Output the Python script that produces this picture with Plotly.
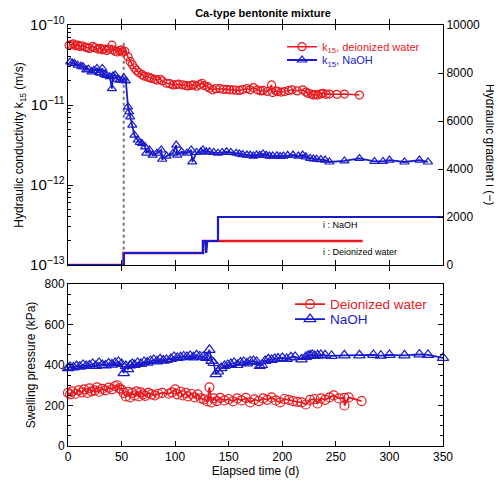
import plotly.graph_objects as go

RED = "#e8191f"
BLUE = "#1a1acc"
FONT = "Liberation Sans, Arial, sans-serif"

# ---------------- Hydraulic conductivity k15 (m/s) ----------------
k_dw_day = [1, 3, 5, 7, 9, 11, 13, 16, 18, 20, 23, 25, 28, 30, 32, 34, 36, 38, 41, 42,
            44, 46, 48, 50, 51, 53, 56, 58, 60, 62, 64, 66, 69, 71, 74, 76, 78, 81, 83, 86,
            88, 92, 95, 98, 101, 103, 107, 110, 112, 115, 117, 120, 123, 125, 127, 130, 132,
            135, 138, 142, 145, 148, 151, 154, 157, 160, 163, 167, 170, 173, 177, 180, 182,
            186, 190, 191, 194, 196, 199, 202, 206, 209, 214, 219, 222, 224, 227, 229, 231,
            233, 236, 238, 241, 244, 251, 258, 272]
k_dw = [5.6e-11, 5.7e-11, 5.8e-11, 5.5e-11, 5.6e-11, 5.4e-11, 5.5e-11, 5.3e-11, 5.2e-11, 5.1e-11,
        5.4e-11, 5.2e-11, 5.0e-11, 5.1e-11, 4.9e-11, 5.0e-11, 4.8e-11, 5.0e-11, 5.6e-11, 4.9e-11,
        4.7e-11, 4.6e-11, 4.8e-11, 4.9e-11, 4.6e-11, 4.7e-11, 4.0e-11, 3.5e-11, 3.2e-11, 2.9e-11,
        2.7e-11, 2.55e-11, 2.4e-11, 2.3e-11, 2.25e-11, 2.2e-11, 2.15e-11, 2.1e-11, 2.05e-11, 2.1e-11,
        2.0e-11, 1.87e-11, 1.85e-11, 1.78e-11, 1.8e-11, 1.82e-11, 1.78e-11, 1.75e-11, 1.73e-11, 1.76e-11,
        1.78e-11, 1.72e-11, 1.8e-11, 1.87e-11, 1.75e-11, 1.7e-11, 1.62e-11, 1.55e-11, 1.6e-11, 1.6e-11,
        1.57e-11, 1.57e-11, 1.55e-11, 1.55e-11, 1.53e-11, 1.52e-11, 1.56e-11, 1.6e-11, 1.55e-11, 1.65e-11,
        1.55e-11, 1.5e-11, 1.52e-11, 1.48e-11, 1.78e-11, 1.43e-11, 1.5e-11, 1.47e-11, 1.45e-11, 1.47e-11,
        1.52e-11, 1.55e-11, 1.5e-11, 1.55e-11, 1.45e-11, 1.4e-11, 1.37e-11, 1.33e-11, 1.35e-11, 1.33e-11,
        1.38e-11, 1.4e-11, 1.36e-11, 1.37e-11, 1.36e-11, 1.37e-11, 1.33e-11]

k_na_day = [2, 4, 6, 9, 12, 14, 17, 19, 22, 24, 27, 29, 30, 32, 34, 36, 39, 41, 42, 44, 46, 48,
            51, 52, 54, 56, 57, 58, 60, 62, 65, 67, 69, 72, 73, 76, 79, 83, 87, 88, 92, 98, 101,
            102, 106, 111, 115, 116, 120, 124, 126, 129, 132, 136, 140, 144, 148, 152, 157, 160,
            163, 167, 170, 173, 176, 179, 182, 185, 188, 191, 195, 198, 201, 205, 210, 215, 219,
            222, 226, 229, 232, 236, 240, 244, 258, 272, 286, 294, 300, 314, 328, 336]
k_na = [3.45e-11, 3.35e-11, 3.3e-11, 3.15e-11, 3.05e-11, 3.0e-11, 2.75e-11, 2.8e-11, 2.6e-11, 2.7e-11,
        2.87e-11, 2.55e-11, 2.5e-11, 2.87e-11, 2.4e-11, 2.35e-11, 2.26e-11, 1.6e-11, 2.3e-11, 2.37e-11,
        2.1e-11, 2.05e-11, 2.05e-11, 2.2e-11, 2.0e-11, 9.5e-12, 8.2e-12, 7.1e-12, 5.6e-12, 4.2e-12,
        3.65e-12, 3.4e-12, 3.3e-12, 3.0e-12, 2.5e-12, 2.74e-12, 2.37e-12, 2.5e-12, 2.74e-12, 2.1e-12,
        2.3e-12, 2.5e-12, 3.16e-12, 2.37e-12, 2.6e-12, 2.5e-12, 2.74e-12, 1.95e-12, 2.55e-12, 2.6e-12,
        2.74e-12, 2.6e-12, 2.6e-12, 2.55e-12, 2.5e-12, 2.55e-12, 2.6e-12, 2.55e-12, 2.5e-12, 2.45e-12,
        2.4e-12, 2.37e-12, 2.35e-12, 2.3e-12, 2.37e-12, 2.35e-12, 2.45e-12, 2.35e-12, 2.3e-12, 2.3e-12,
        2.32e-12, 2.28e-12, 2.3e-12, 2.35e-12, 2.37e-12, 2.3e-12, 2.37e-12, 2.25e-12, 2.15e-12, 2.12e-12,
        2.1e-12, 2.08e-12, 2.05e-12, 1.94e-12, 2.0e-12, 2.15e-12, 1.97e-12, 1.97e-12, 2.05e-12, 1.94e-12,
        2.05e-12, 1.94e-12]

# ---------------- Hydraulic gradient i (-) ----------------
grad_dw_day = [0, 52, 126, 275]
grad_dw = [0, 500, 1000, 1000]
grad_na_day = [0, 52, 52, 126, 126, 128, 129, 130, 140, 140, 350]
grad_na = [0, 0, 500, 500, 1000, 1000, 500, 1000, 1000, 2000, 2000]

switch_day = 52
switch_k = [6e-11, 1e-13]

# ---------------- Swelling pressure (kPa) ----------------
sp_dw_day = [0, 2, 4, 7, 10, 13, 15, 18, 20, 22, 25, 27, 29, 32, 35, 38, 41, 44, 46, 48, 50, 52,
             54, 56, 58, 60, 62, 64, 66, 68, 70, 72, 75, 78, 81, 84, 88, 94, 97, 100, 102, 105,
             107, 110, 112, 115, 118, 121, 124, 127, 130, 132, 134, 136, 139, 142, 146, 150, 154,
             158, 162, 166, 170, 174, 178, 182, 186, 190, 194, 198, 202, 206, 210, 214, 218, 222,
             226, 230, 233, 236, 240, 244, 248, 253, 258, 258, 262, 274]
sp_dw = [262, 255, 270, 258, 275, 265, 280, 262, 285, 270, 275, 290, 268, 282, 275, 288, 280, 295,
         300, 285, 278, 262, 245, 268, 240, 262, 250, 270, 245, 265, 255, 248, 262, 255, 250, 258,
         262, 258, 265, 280, 255, 268, 250, 262, 245, 258, 240, 255, 235, 230, 220, 290, 215, 235,
         222, 238, 225, 232, 220, 235, 225, 238, 215, 230, 222, 235, 228, 240, 225, 215, 232, 228,
         222, 218, 215, 205, 228, 232, 210, 235, 228, 240, 250, 235, 238, 200, 240, 222]

sp_na_day = [0, 2, 5, 8, 11, 14, 17, 20, 23, 26, 29, 32, 35, 38, 41, 44, 47, 50, 52, 54, 56, 58,
             60, 62, 65, 68, 71, 74, 77, 80, 83, 86, 89, 92, 96, 99, 102, 105, 108, 111, 114, 117,
             120, 123, 126, 129, 132, 134, 136, 138, 140, 143, 146, 149, 152, 155, 158, 161, 164,
             167, 170, 173, 176, 179, 181, 184, 187, 190, 193, 196, 200, 204, 208, 212, 218, 222,
             224, 226, 228, 230, 233, 236, 240, 246, 258, 272, 285, 292, 300, 314, 328, 336, 350]
sp_na = [385, 390, 388, 395, 392, 400, 395, 398, 405, 395, 410, 400, 398, 408, 402, 410, 415, 405,
         360, 395, 380, 398, 405, 400, 410, 405, 415, 412, 420, 425, 418, 428, 422, 425, 430, 440,
         435, 438, 442, 440, 445, 438, 448, 442, 440, 435, 475, 420, 410, 355, 368, 385, 395, 400,
         405, 410, 400, 412, 415, 408, 418, 420, 415, 395, 400, 420, 428, 425, 430, 432, 435, 430,
         438, 440, 428, 440, 445, 448, 450, 445, 448, 450, 448, 445, 448, 448, 450, 446, 450, 448,
         452, 450, 435]

fig = go.Figure()

# gradient steps (right axis, top panel)
fig.add_trace(go.Scatter(x=grad_dw_day, y=grad_dw, mode="lines", line=dict(color=RED, width=2.5, shape="hv"),
                         xaxis="x", yaxis="y2", showlegend=False))
fig.add_trace(go.Scatter(x=grad_na_day, y=grad_na, mode="lines", line=dict(color=BLUE, width=2.2),
                         xaxis="x", yaxis="y2", showlegend=False))

# switch line
fig.add_trace(go.Scatter(x=[switch_day, switch_day], y=switch_k, mode="lines",
                         line=dict(color="#777777", width=2, dash="dot"),
                         xaxis="x", yaxis="y", showlegend=False))

fig.add_trace(go.Scatter(x=k_dw_day, y=k_dw, mode="lines+markers",
                         name="<span style='color:%s'>k<sub>15</sub>, deionized water</span>" % RED,
                         line=dict(color=RED, width=1.5),
                         marker=dict(symbol="circle-open", size=8, color=RED, line=dict(width=1.2)),
                         xaxis="x", yaxis="y", legend="legend", cliponaxis=False))
fig.add_trace(go.Scatter(x=k_na_day, y=k_na, mode="lines+markers",
                         name="<span style='color:%s'>k<sub>15</sub>, NaOH</span>" % BLUE,
                         line=dict(color=BLUE, width=1.8),
                         marker=dict(symbol="triangle-up-open", size=8, color=BLUE, line=dict(width=1.2)),
                         xaxis="x", yaxis="y", legend="legend3", cliponaxis=False))

fig.add_trace(go.Scatter(x=sp_dw_day, y=sp_dw, mode="lines+markers",
                         name="<span style='color:%s'>Deionized water</span>" % RED,
                         line=dict(color=RED, width=1.8),
                         marker=dict(symbol="circle-open", size=9, color=RED, line=dict(width=1.2)),
                         xaxis="x2", yaxis="y3", legend="legend2", cliponaxis=False))
fig.add_trace(go.Scatter(x=sp_na_day, y=sp_na, mode="lines+markers",
                         name="<span style='color:%s'>NaOH</span>" % BLUE,
                         line=dict(color=BLUE, width=1.8),
                         marker=dict(symbol="triangle-up-open", size=10, color=BLUE, line=dict(width=1.2)),
                         xaxis="x2", yaxis="y3", legend="legend4", cliponaxis=False))

axis_common = dict(showline=True, linecolor="black", linewidth=1, showgrid=False, zeroline=False,
                   ticks="inside", tickcolor="black", ticklen=5, automargin=False,
                   tickfont=dict(family=FONT, size=12, color="black"))

leg_common = dict(xanchor="left", yanchor="middle", bgcolor="rgba(0,0,0,0)", itemwidth=30,
                  borderwidth=0)

fig.update_layout(
    width=502, height=486,
    margin=dict(l=60, r=67, t=17, b=48, autoexpand=False),
    paper_bgcolor="white", plot_bgcolor="white",
    font=dict(family=FONT, size=12, color="black"),
    title=dict(text="<b>Ca-type bentonite mixture</b>", x=0.508, xanchor="center", y=0.99, yanchor="middle",
               font=dict(family=FONT, size=11, color="black")),
    xaxis=dict(domain=[0, 1], anchor="y", range=[0, 350], dtick=50, showticklabels=False,
               mirror="allticks", **axis_common),
    yaxis=dict(domain=[0.4299, 1], anchor="x", type="log", range=[-13, -10], dtick=1,
               exponentformat="power", showexponent="all",
               minor=dict(ticks="inside", ticklen=3, tickcolor="black"),
               title=dict(text="Hydraulic conductivity k<sub>15</sub> (m/s)", font=dict(size=12), standoff=3),
               **axis_common),
    yaxis2=dict(overlaying="y", side="right", anchor="x", range=[0, 10000], dtick=2000,
                tickformat="d", **axis_common),
    xaxis2=dict(domain=[0, 1], anchor="y3", range=[0, 350], dtick=50, mirror="allticks",
                title=dict(text="Elapsed time (d)", font=dict(size=12), standoff=2), **axis_common),
    yaxis3=dict(domain=[0, 0.3848], anchor="x2", range=[0, 800], dtick=200, mirror="allticks",
                minor=dict(ticks="inside", ticklen=3, dtick=50, tickcolor="black"),
                title=dict(text="Swelling pressure (kPa)", font=dict(size=12), standoff=6),
                **axis_common),
    legend=dict(x=0.5707, y=0.9485, font=dict(family=FONT, size=11), **leg_common),
    legend3=dict(x=0.5707, y=0.9169, font=dict(family=FONT, size=11), **leg_common),
    legend2=dict(x=0.592, y=0.3366, font=dict(family=FONT, size=13.5), **leg_common),
    legend4=dict(x=0.592, y=0.301, font=dict(family=FONT, size=13.5), **leg_common),
    annotations=[
        dict(text="i : NaOH", x=236, y=1667, xref="x", yref="y2", xanchor="left", yanchor="middle",
             showarrow=False, font=dict(family=FONT, size=9, color="black")),
        dict(text="i : Deionized water", x=236, y=554, xref="x", yref="y2", xanchor="left", yanchor="middle",
             showarrow=False, font=dict(family=FONT, size=9, color="black")),
        dict(text="Hydraulic gradient i (\u2212)", x=1.125, y=0.715, xref="paper", yref="paper",
             textangle=90, showarrow=False, xanchor="center", yanchor="middle",
             font=dict(family=FONT, size=12, color="black")),
    ],
)

fig.write_html("out.html")
